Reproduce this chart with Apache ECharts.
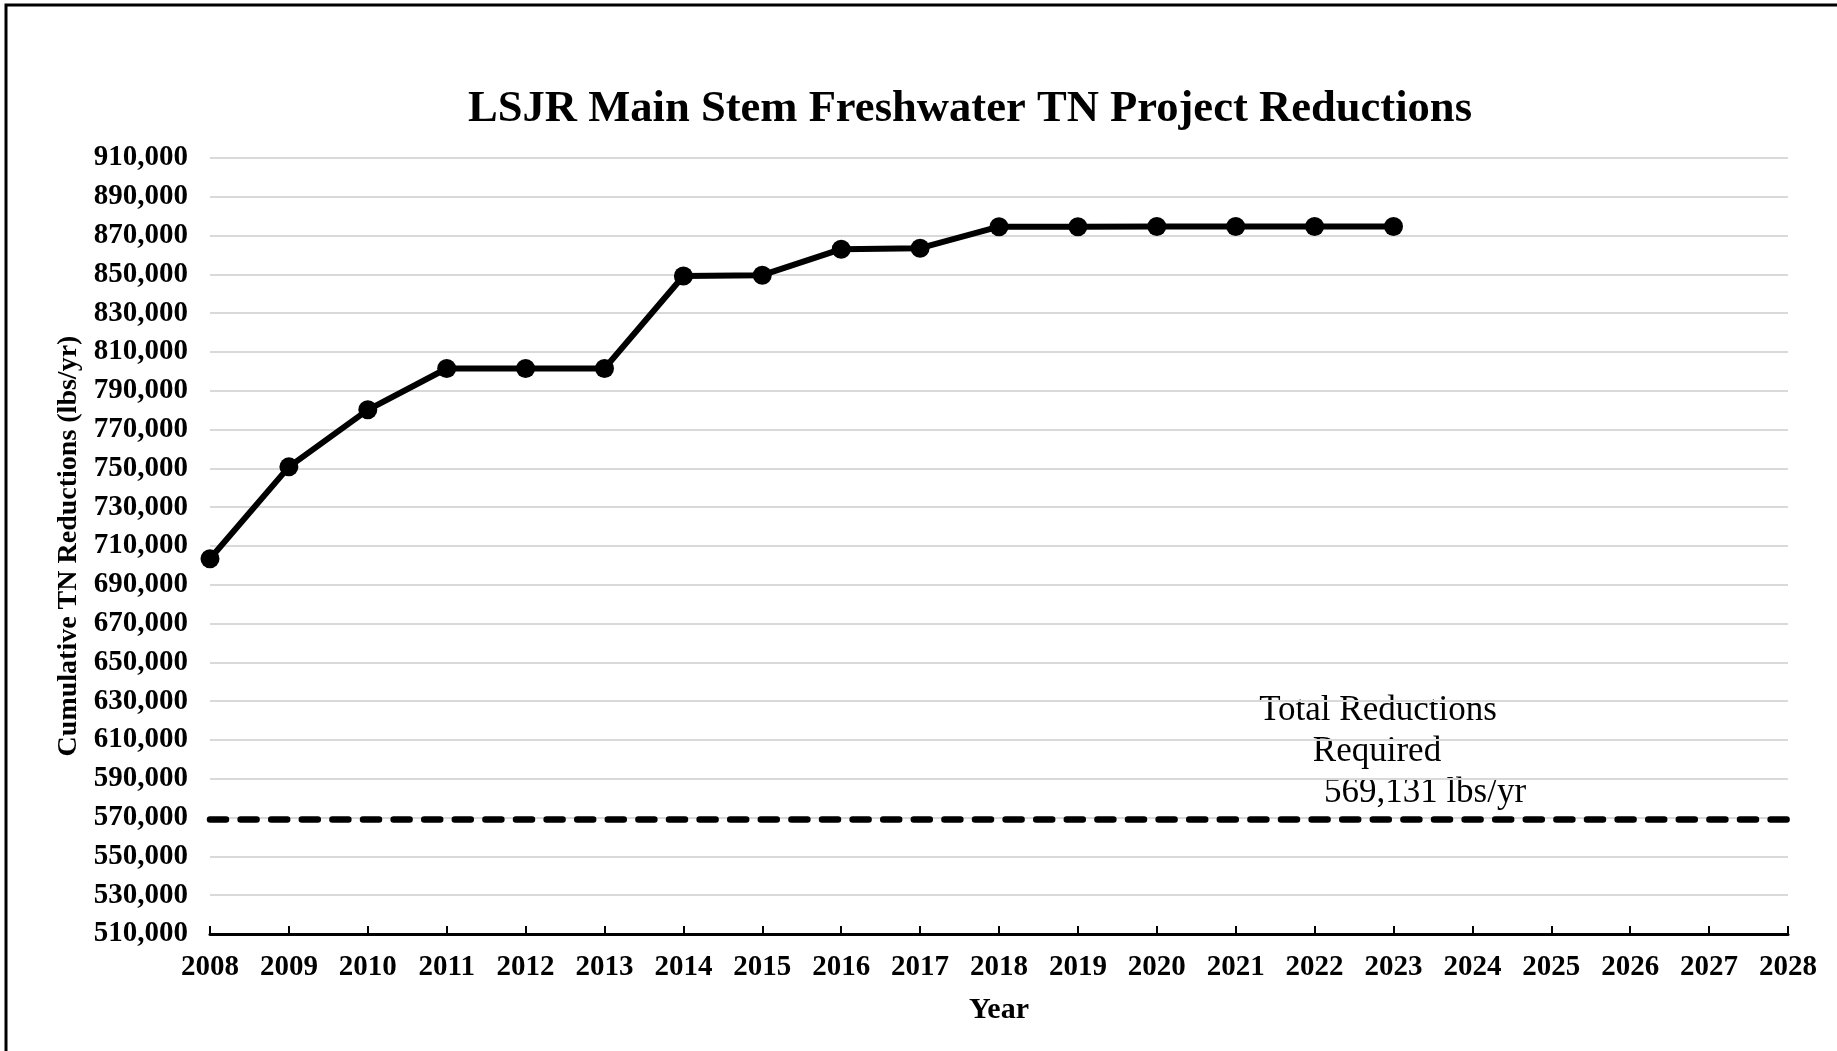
<!DOCTYPE html>
<html>
<head>
<meta charset="utf-8">
<script src="https://cdn.jsdelivr.net/npm/echarts@6/dist/echarts.min.js"></script>
<style>
html,body{margin:0;padding:0;background:#fff;}
#chart{width:1837px;height:1051px;}
</style>
</head>
<body>
<div id="chart"></div>
<script>
const years = ['2008','2009','2010','2011','2012','2013','2014','2015','2016','2017','2018','2019','2020','2021','2022','2023','2024','2025','2026','2027','2028'];
const cumulativeReductions = [703400, 750800, 780200, 801500, 801500, 801500, 849200, 849600, 863000, 863500, 874600, 874600, 874700, 874700, 874700, 874700];
const requiredReduction = 569131;
const yTicks = [510000, 530000, 550000, 570000, 590000, 610000, 630000, 650000, 670000, 690000, 710000, 730000, 750000, 770000, 790000, 810000, 830000, 850000, 870000, 890000, 910000];
const annotationLines = ['Total Reductions', 'Required', '569,131 lbs/yr'];

const FONT = "'Liberation Serif', 'Times New Roman', serif";
const chart = echarts.init(document.getElementById('chart'), null, {renderer: 'canvas'});

chart.setOption({
  backgroundColor: '#fff',
  animation: false,
  title: {
    text: 'LSJR Main Stem Freshwater TN Project Reductions',
    left: 965,
    top: 82,
    textAlign: 'center',
    textStyle: {fontFamily: FONT, fontWeight: 'bold', fontSize: 44.6, color: '#000'}
  },
  grid: {left: 210, right: 49, top: 158, bottom: 117, containLabel: false, outerBoundsMode: 'none'},
  xAxis: {
    type: 'category',
    data: years,
    boundaryGap: false,
    name: 'Year',
    nameLocation: 'middle',
    nameGap: 61,
    nameTextStyle: {fontFamily: FONT, fontWeight: 'bold', fontSize: 30, color: '#000'},
    axisLine: {lineStyle: {color: '#000', width: 3}},
    axisTick: {show: true, inside: true, length: 8, alignWithLabel: true, lineStyle: {color: '#000', width: 2}},
    axisLabel: {fontFamily: FONT, fontWeight: 'bold', fontSize: 29, color: '#000', margin: 19, interval: 0},
    splitLine: {show: false}
  },
  yAxis: {
    type: 'value',
    min: 510000,
    max: 910000,
    name: 'Cumulative TN Reductions (lbs/yr)',
    nameLocation: 'middle',
    nameRotate: 90,
    nameGap: 127,
    nameTextStyle: {fontFamily: FONT, fontWeight: 'bold', fontSize: 28, color: '#000'},
    axisLine: {show: false},
    axisTick: {show: false, customValues: yTicks},
    axisLabel: {
      customValues: yTicks,
      fontFamily: FONT, fontWeight: 'bold', fontSize: 29, color: '#000', margin: 22,
      formatter: v => Number(v).toLocaleString('en-US')
    },
    splitLine: {show: true, lineStyle: {color: '#d9d9d9', width: 2}}
  },
  series: [{
    type: 'line',
    data: cumulativeReductions,
    symbol: 'circle',
    symbolSize: 19,
    lineStyle: {color: '#000', width: 6},
    itemStyle: {color: '#000'},
    z: 5,
    markLine: {
      silent: true,
      symbol: 'none',
      label: {show: false},
      lineStyle: {color: '#000', width: 6.5, type: [16, 14.6], cap: 'round'},
      data: [{yAxis: requiredReduction}]
    }
  }],
  graphic: [
    {type: 'rect', shape: {x: 6, y: 5, width: 1900, height: 1100}, style: {fill: 'none', stroke: '#000', lineWidth: 3}, silent: true},
    {type: 'text', x: 1378, y: 711, style: {text: annotationLines[0], font: '35px ' + FONT, fill: '#000', align: 'center', verticalAlign: 'middle'}},
    {type: 'text', x: 1377, y: 752, style: {text: annotationLines[1], font: '35px ' + FONT, fill: '#000', align: 'center', verticalAlign: 'middle'}},
    {type: 'text', x: 1425, y: 793, style: {text: annotationLines[2], font: '35px ' + FONT, fill: '#000', align: 'center', verticalAlign: 'middle'}}
  ]
});
</script>
</body>
</html>
